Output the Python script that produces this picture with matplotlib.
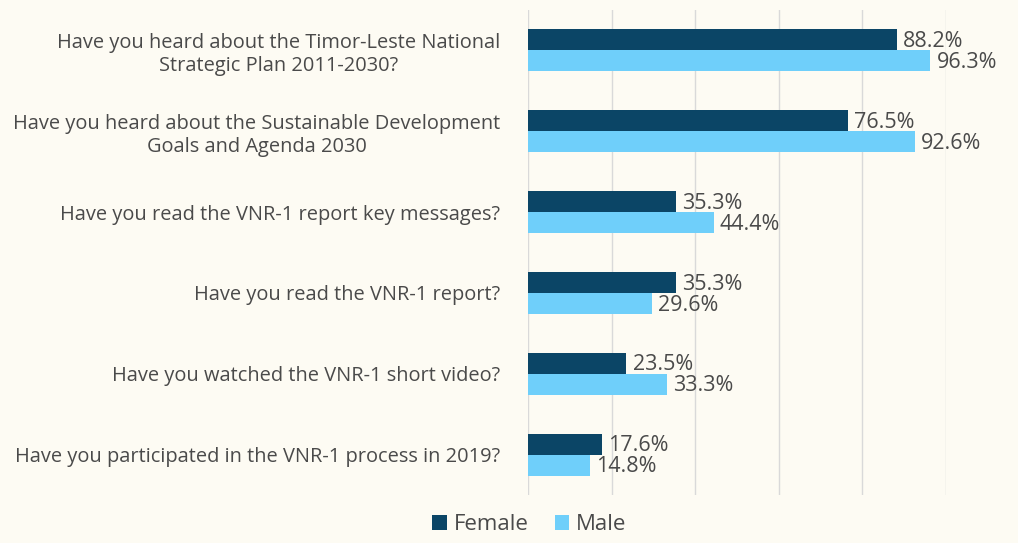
import matplotlib
matplotlib.use("Agg")
import matplotlib.pyplot as plt
import numpy as np

categories = [
    "Have you heard about the Timor-Leste National\nStrategic Plan 2011-2030?",
    "Have you heard about the Sustainable Development\nGoals and Agenda 2030",
    "Have you read the VNR-1 report key messages?",
    "Have you read the VNR-1 report?",
    "Have you watched the VNR-1 short video?",
    "Have you participated in the VNR-1 process in 2019?",
]
female = [88.2, 76.5, 35.3, 35.3, 23.5, 17.6]
male = [96.3, 92.6, 44.4, 29.6, 33.3, 14.8]
series_names = ["Female", "Male"]

bg = "#FDFBF3"
c_female = "#0B4566"
c_male = "#6FCFFA"
text_c = "#4A4A4A"

plt.rcParams['font.family'] = ['Open Sans', 'DejaVu Sans']

fig = plt.figure(figsize=(10.18, 5.43), dpi=100, facecolor=bg)
ax = fig.add_axes([0.5187, 0.088, 0.4105, 0.894])
ax.set_facecolor(bg)

n = len(categories)
y = np.arange(n)
h = 0.26
ax.barh(y - h / 2, female, height=h, color=c_female, label=series_names[0], zorder=3)
ax.barh(y + h / 2, male, height=h, color=c_male, label=series_names[1], zorder=3)

for yi, v in zip(y, female):
    ax.text(v + 1.5, yi - h / 2 + 0.02, f"{v:.1f}%", va="center", ha="left",
            fontsize=15.5, color=text_c, zorder=4)
for yi, v in zip(y, male):
    ax.text(v + 1.5, yi + h / 2 + 0.02, f"{v:.1f}%", va="center", ha="left",
            fontsize=15.5, color=text_c, zorder=4)

ax.set_xlim(0, 100)
ax.set_ylim(n - 0.5, -0.5)
ax.set_xticks([0, 20, 40, 60, 80, 100])
ax.set_xticklabels([])
ax.tick_params(axis="x", length=0)
ax.grid(axis="x", color="#D9D9D9", linewidth=1, zorder=0)
ax.set_yticks(y)
ax.set_yticklabels(categories, fontsize=14.4, color=text_c, multialignment="center")
ax.tick_params(axis="y", length=0, pad=20)
for s in ax.spines.values():
    s.set_visible(False)

leg = fig.legend(loc="lower center", bbox_to_anchor=(0.52, -0.022), ncol=2, frameon=False,
                 fontsize=16, handlelength=0.65, handleheight=0.65, handletextpad=0.3,
                 columnspacing=1.2)
for t in leg.get_texts():
    t.set_color(text_c)

fig.savefig("out.png", dpi=100, facecolor=bg)
